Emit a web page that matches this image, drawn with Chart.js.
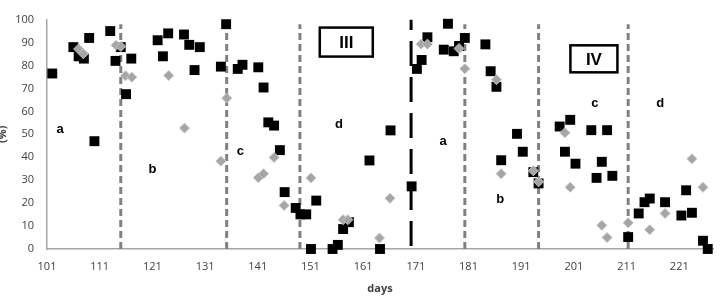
<!DOCTYPE html>
<html>
<head>
<meta charset="utf-8">
<script src="https://cdn.jsdelivr.net/npm/chart.js@4"></script>
<style>
  html, body { margin: 0; padding: 0; background: #fff; }
  #wrap { width: 720px; height: 301px; }
</style>
</head>
<body>
<div id="wrap"><canvas id="c" width="720" height="301"></canvas></div>
<script>
// ---- data ----
const xTicks = [101, 111, 121, 131, 141, 151, 161, 171, 181, 191, 201, 211, 221];
const yTicks = [0, 10, 20, 30, 40, 50, 60, 70, 80, 90, 100];

const squareDays = [102, 106, 107, 108, 109, 110, 113, 114, 115, 116, 117, 122, 123, 124, 127, 128, 129, 130, 134, 135,
  137.2, 138.1, 141.1, 142.1, 143, 144.1, 145.2, 146.1, 148.2, 149.1, 150.2, 151.1, 152.1, 155.2, 156.2, 157.2, 158.3,
  162.2, 164.2, 166.2, 170.2, 171.2, 172.1, 173.2, 176.3, 177.1, 178.2, 179.2, 180.3, 184.2, 185.2, 186.3, 187.2,
  190.2, 191.3, 193.3, 194.3, 198.3, 199.3, 200.3, 201.3, 204.3, 205.3, 206.3, 207.3, 208.3, 211.3, 213.3, 214.4,
  215.4, 218.3, 221.4, 222.3, 223.4, 225.5, 226.4];
const squareValues = [76.5, 88, 84, 83, 92, 47, 95, 82, 88, 67.5, 83, 91, 84, 94, 93.5, 89, 78, 88, 79.5, 98,
  78.5, 80.3, 79.2, 70.4, 55.2, 53.8, 43.1, 24.8, 17.9, 15.1, 15.1, 0, 21.1, 0, 1.8, 8.7, 11.7,
  38.6, 0, 51.7, 27.3, 78.5, 82.4, 92.3, 86.9, 98.2, 86.2, 88.5, 92, 89.2, 77.5, 70.7, 38.7,
  50.2, 42.4, 33.5, 28.6, 53.4, 42.4, 56.3, 37.2, 51.8, 31, 38, 51.8, 31.9, 5.2, 15.5, 20.4,
  22, 20.4, 14.6, 25.6, 15.8, 3.6, 0];

const diamondDays = [107, 107.9, 114.1, 115, 115.9, 117.1, 124.1, 127.1, 134, 135.1, 141.1, 142.1, 144.1, 146, 151.1,
  157.2, 158.1, 164.1, 166.1, 172, 173.2, 179.2, 180.3, 186.3, 187.2, 193.3, 194.3, 199.3, 200.3, 206.3, 207.3,
  211.3, 215.4, 218.3, 223.4, 225.5];
const diamondValues = [87.2, 85.1, 88.8, 88.3, 75.5, 74.9, 75.6, 52.7, 38.3, 65.8, 31.1, 32.8, 39.9, 19, 31,
  12.8, 12.8, 4.8, 22.1, 89.3, 89.3, 87.4, 78.6, 73.8, 32.8, 34.1, 29.3, 50.7, 26.9, 10.3, 5,
  11.4, 8.4, 15.5, 39.3, 26.9];

const dividerDays = [115, 135.1, 149, 180.3, 194.3, 211.3];
const dividerTop = 98;
const phaseDay = 170.1;

const letterTexts = ['a', 'b', 'c', 'd', 'a', 'b', 'c', 'd'];
const letterDays = [103.5, 121, 137.7, 156.4, 176.2, 187, 205, 217.4];
const letterValues = [52, 34.8, 42.7, 54.5, 46.8, 21.7, 63.5, 63.5];

const boxTexts = ['III', 'IV'];
const boxDays = [157.8, 204.8];
const boxValues = [90.2, 82.9];

// ---- build datasets ----
const pts = (xs, ys) => xs.map((x, i) => ({ x: x, y: ys[i] }));

const datasets = [];
datasets.push({
  type: 'scatter', label: 'diamonds', data: pts(diamondDays, diamondValues),
  pointStyle: 'rectRot', pointRadius: 5, backgroundColor: '#a5a5a5', borderColor: '#c4c4c4',
  borderWidth: 1, order: 0, clip: false
});
datasets.push({
  type: 'scatter', label: 'squares', data: pts(squareDays, squareValues),
  pointStyle: 'rect', pointRadius: 7, backgroundColor: '#000', borderColor: '#000',
  borderWidth: 0, order: 1, clip: false
});
dividerDays.forEach(d => datasets.push({
  type: 'line', data: [{ x: d, y: 0 }, { x: d, y: dividerTop }], borderColor: '#808080',
  borderWidth: 3, borderDash: [7, 4], pointRadius: 0, order: 3
}));
datasets.push({
  type: 'line', data: [{ x: phaseDay, y: 0 }, { x: phaseDay, y: 100 }], borderColor: '#000',
  borderWidth: 3, borderDash: [25, 11], borderDashOffset: -3, pointRadius: 0, order: 2
});

const annot = {
  id: 'annot',
  afterDatasetsDraw(chart) {
    const { ctx, scales: { x, y } } = chart;
    ctx.save();
    ctx.fillStyle = '#000';
    ctx.textAlign = 'center';
    ctx.textBaseline = 'middle';
    ctx.font = 'bold 13px "Liberation Sans", Arial, sans-serif';
    letterTexts.forEach((t, i) => {
      ctx.fillText(t, x.getPixelForValue(letterDays[i]), y.getPixelForValue(letterValues[i]));
    });
    const bw = [53, 47], bh = [29, 27];
    boxTexts.forEach((t, i) => {
      const cx = x.getPixelForValue(boxDays[i]), cy = y.getPixelForValue(boxValues[i]);
      ctx.lineWidth = 2.5;
      ctx.strokeStyle = '#000';
      ctx.strokeRect(cx - bw[i] / 2, cy - bh[i] / 2, bw[i], bh[i]);
      ctx.font = 'bold 17px "Liberation Sans", Arial, sans-serif';
      ctx.fillText(t, cx, cy + 1);
    });
    ctx.restore();
  }
};

const tickFont = { family: '"Open Sans", sans-serif', size: 11 };

new Chart(document.getElementById('c'), {
  type: 'scatter',
  data: { datasets },
  plugins: [annot],
  options: {
    responsive: false,
    animation: false,
    devicePixelRatio: 1,
    layout: { padding: { top: 7, right: 4, left: 0, bottom: 0 } },
    plugins: { legend: { display: false }, tooltip: { enabled: false } },
    scales: {
      x: {
        type: 'linear', min: 101, max: 227.4,
        afterBuildTicks: s => { s.ticks = xTicks.map(v => ({ value: v })); },
        afterFit: s => { s.height = 52; },
        grid: { display: false, drawTicks: false },
        border: { display: true, color: '#a6a6a6', width: 1.5 },
        ticks: { color: '#404040', font: tickFont, padding: 11, maxRotation: 0, autoSkip: false },
        title: { display: true, text: 'days', color: '#404040',
          font: { family: '"Open Sans", sans-serif', size: 11, weight: 'bold' }, padding: { top: 0, bottom: 6 } }
      },
      y: {
        type: 'linear', min: 0, max: 100,
        afterBuildTicks: s => { s.ticks = yTicks.map(v => ({ value: v })); },
        afterFit: s => { s.width = 47; },
        grid: { display: false, drawTicks: false },
        border: { display: true, color: '#a6a6a6', width: 1.5 },
        ticks: { color: '#404040', font: tickFont, padding: 13 },
        title: { display: true, text: '(%)', color: '#404040',
          font: { family: '"Open Sans", sans-serif', size: 11, weight: 'bold' }, padding: { top: -4, bottom: 0 } }
      }
    }
  }
});
</script>
</body>
</html>
